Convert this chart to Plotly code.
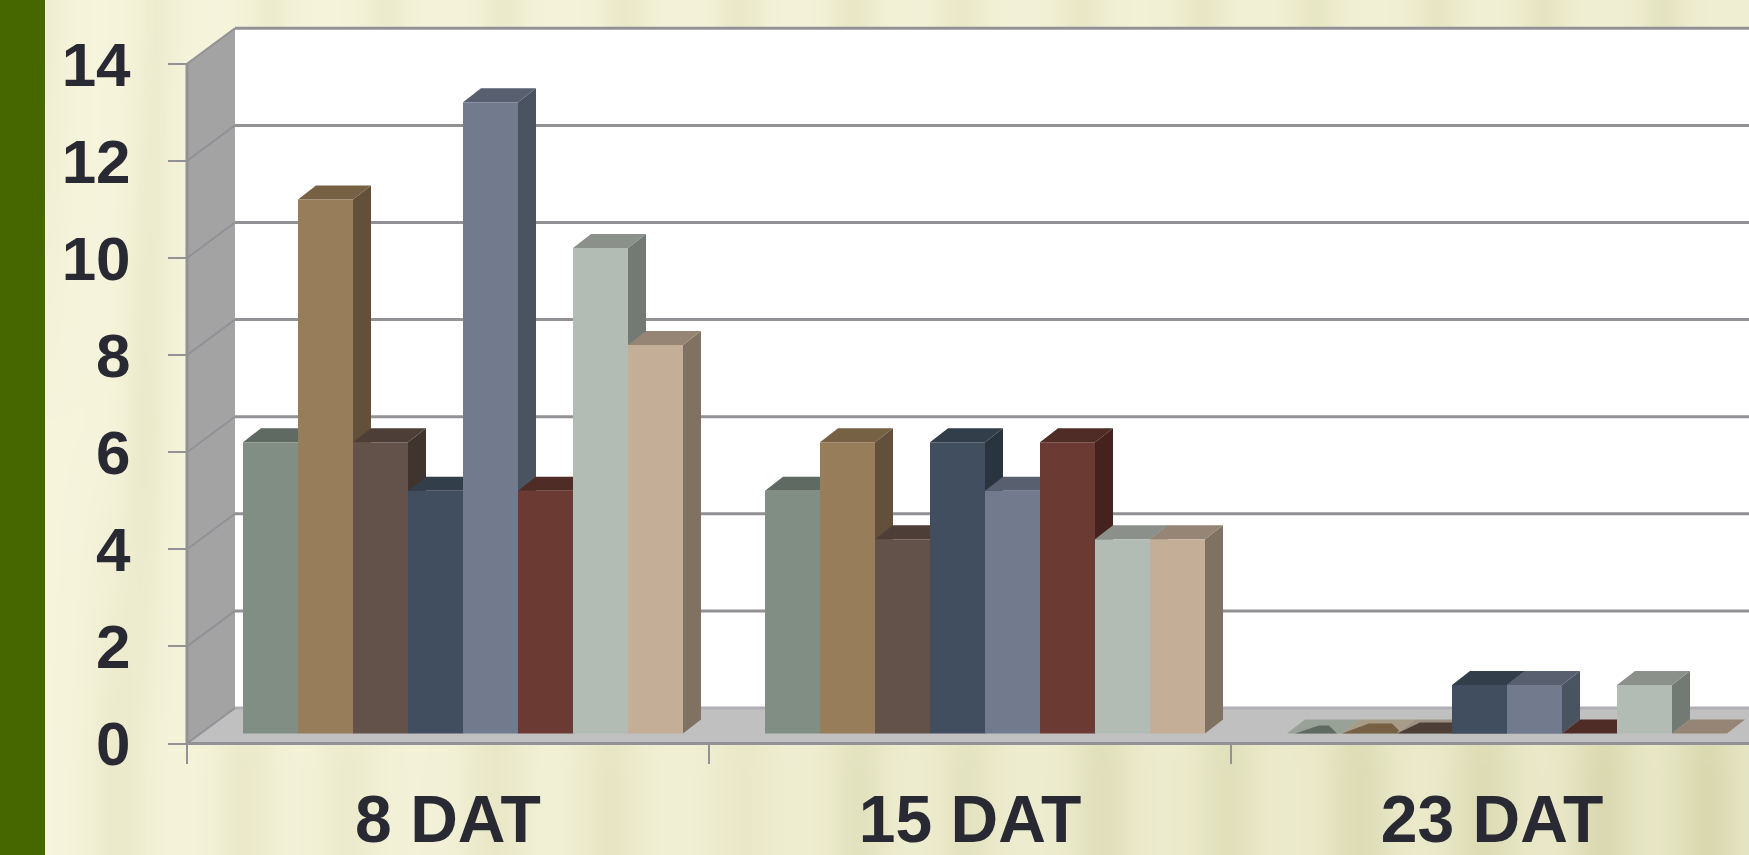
import numpy as np
import plotly.graph_objects as go

# Chart data
categories = ["8 DAT", "15 DAT", "23 DAT"]
series_1 = [6, 5, 0]
series_2 = [11, 6, 0]
series_3 = [6, 4, 0]
series_4 = [5, 6, 1]
series_5 = [13, 5, 1]
series_6 = [5, 6, 0]
series_7 = [10, 4, 1]
series_8 = [8, 4, 0]
y_ticks = [0, 2, 4, 6, 8, 10, 12, 14]

all_series = [series_1, series_2, series_3, series_4,
              series_5, series_6, series_7, series_8]

# Face colours per series: front, top, side
FRONT = ["#818e84", "#987d5a", "#635249", "#414e5f", "#727b8d", "#6b3a33", "#b2bcb4", "#c4ae98"]
TOP = ["#5f6a62", "#766145", "#4d3f37", "#323e4a", "#586070", "#4f2c26", "#8b918a", "#968574"]
SIDE = ["#4c5550", "#62503a", "#40342e", "#29343e", "#4a5360", "#45221e", "#737a74", "#7f7262"]

# Flat bars in the third group have a washed-out top with a darker ridge on it
WASH = {0: "#99a297", 1: "#a69c87", 2: "#9c9384"}
RIDGE = {
    0: [(8, 0), (32, 8), (42, 8), (50, 0)],
    1: [(0, 0), (27, 10), (50, 10), (57, 3), (55, 0)],
    2: [(0, 0), (23, 11), (55, 11), (55, 0)],
}

# Canvas and plotting scale, in pixels
W, H = 1749, 855
ORIGIN_X, ORIGIN_Y = 187, 743.5
PX_PER_CAT, PX_PER_UNIT = 522.0, 48.55
LINE = "#929296"
TEXT = "#292933"
FONT = "Liberation Sans"


def ux(px):
    return px / PX_PER_CAT


def uy(px):
    return px / PX_PER_UNIT


x_min, x_max = ux(-ORIGIN_X), ux(W - ORIGIN_X)
y_min, y_max = uy(ORIGIN_Y - H), uy(ORIGIN_Y)

wall_dx, wall_dy = ux(48), uy(35.5)
bar_dx, bar_dy = ux(18), uy(14)
bar_w = ux(55)
bar_gap = ux(41)
lift_x, lift_y = ux(15), uy(10)


def poly(xs, ys, color):
    return go.Scatter(x=xs, y=ys, mode="lines", fill="toself", fillcolor=color,
                      line=dict(width=0), hoverinfo="skip", showlegend=False)


def path(xs, ys, width=3, color=LINE):
    return go.Scatter(x=xs, y=ys, mode="lines", line=dict(width=width, color=color),
                      hoverinfo="skip", showlegend=False)


def streaks(grid, centers, depths, base_left, base_right, sigma):
    profile = np.linspace(base_left, base_right, grid.size)
    for c, d in zip(centers, depths):
        profile = profile + d * np.exp(-((grid - c) ** 2) / (2 * sigma ** 2))
    return np.clip(profile, 0, 1)


# Paper-like backdrop: vertical streaks that deepen toward the lower right
grid_px = np.arange(0, W + 4, 4.0)
top_row = streaks(
    grid_px,
    [45, 156, 270, 386, 503, 625, 739, 853, 961, 1081, 1202, 1315, 1436, 1543, 1663],
    [.22, .22, .22, .25, .27, .3, .3, .32, .27, .3, .3, .3, .3, .32, .35],
    0.0, 0.2, 16,
)
mid_row = streaks(grid_px, [145, 500, 900, 1300], [.3, .3, .3, .3], 0.0, 0.3, 16)
bottom_row = streaks(
    grid_px,
    [118, 245, 348, 495, 609, 744, 858, 966, 1102, 1227, 1358, 1483, 1603, 1706],
    [.3, .28, .2, .28, .32, .22, .36, .3, .38, .34, .42, .4, .45, .45],
    0.0, 0.42, 22,
)
row_px = [855, 775, 430, 30, 0]
backdrop = go.Heatmap(
    x=[ux(p - ORIGIN_X) for p in grid_px],
    y=[uy(ORIGIN_Y - p) for p in row_px],
    z=[bottom_row, bottom_row, mid_row, top_row, top_row],
    zmin=0, zmax=1, zsmooth="best", showscale=False, hoverinfo="skip",
    colorscale=[[0, "#f6f4dc"], [1, "#d4d4a8"]],
)

fig = go.Figure(backdrop)

# Chart box: floor, side wall, back wall
top_val = y_ticks[-1]
fig.add_trace(poly([0, wall_dx, x_max, x_max, 0], [0, wall_dy, wall_dy, 0, 0], "#c0c0c0"))
fig.add_trace(poly([0, wall_dx, wall_dx, 0, 0], [0, wall_dy, top_val + wall_dy, top_val, 0], "#a3a3a3"))
fig.add_trace(poly([wall_dx, x_max, x_max, wall_dx, wall_dx],
                   [wall_dy, wall_dy, top_val + wall_dy, top_val + wall_dy, wall_dy], "#ffffff"))

for t in y_ticks:
    shade = "#b0b0b4" if t == 0 else LINE
    fig.add_trace(path([wall_dx, x_max], [t + wall_dy, t + wall_dy], color=shade))
    fig.add_trace(path([0, wall_dx], [t, t + wall_dy], width=2))
fig.add_trace(path([0, 0], [0, top_val], width=3))
fig.add_trace(path([0, x_max], [0, 0], width=3))

# Bars, painted left to right so each one hides the side of its left neighbour
for s, values in enumerate(all_series):
    side_x, side_y, top_x, top_y, front_x, front_y = [], [], [], [], [], []
    for c, v in enumerate(values):
        x0 = c + bar_gap + lift_x + s * bar_w
        x1 = x0 + bar_w
        y0 = lift_y
        y1 = lift_y + v
        if v == 0 and s in WASH:
            continue
        side_x += [x1, x1 + bar_dx, x1 + bar_dx, x1, x1, None]
        side_y += [y0, y0 + bar_dy, y1 + bar_dy, y1, y0, None]
        top_x += [x0, x0 + bar_dx, x1 + bar_dx, x1, x0, None]
        top_y += [y1, y1 + bar_dy, y1 + bar_dy, y1, y1, None]
        front_x += [x0, x1, x1, x0, x0, None]
        front_y += [y0, y0, y1, y1, y0, None]
    fig.add_trace(poly(side_x, side_y, SIDE[s]))
    fig.add_trace(poly(top_x, top_y, TOP[s]))
    fig.add_trace(poly(front_x, front_y, FRONT[s]))

# Flat bars: faded top face plus the ridge drawn in the normal top colour
for s, values in enumerate(all_series):
    for c, v in enumerate(values):
        if v == 0 and s in WASH:
            x0 = c + bar_gap + lift_x + s * bar_w
            x1 = x0 + bar_w
            y1 = lift_y + v
            fig.add_trace(poly([x0, x0 + bar_dx, x1 + bar_dx, x1, x0],
                               [y1, y1 + bar_dy, y1 + bar_dy, y1, y1], WASH[s]))

for s, values in enumerate(all_series):
    for c, v in enumerate(values):
        if v == 0 and s in RIDGE:
            x0 = c + bar_gap + lift_x + s * bar_w
            y1 = lift_y + v
            fig.add_trace(poly([x0 + ux(p[0]) for p in RIDGE[s]],
                               [y1 + uy(p[1]) for p in RIDGE[s]], TOP[s]))

# The two taller flat-group bars sit above the washed tops
for s in (3, 4):
    values = all_series[s]
    c = 2
    x0 = c + bar_gap + lift_x + s * bar_w
    x1 = x0 + bar_w
    fig.add_trace(poly([x0, x1, x1, x0, x0],
                       [lift_y, lift_y, lift_y + values[c], lift_y + values[c], lift_y], FRONT[s]))

x_font = dict(family=FONT, size=66, color=TEXT, weight=700)
y_font = dict(family=FONT, size=62, color=TEXT, weight=700)

fig.update_layout(
    width=W, height=H, autosize=False,
    margin=dict(l=0, r=0, t=0, b=0, pad=0, autoexpand=False),
    paper_bgcolor="#f6f4dc", plot_bgcolor="rgba(0,0,0,0)",
    showlegend=False,
    xaxis=dict(
        range=[x_min, x_max], domain=[0, 1], anchor="free", position=(H - ORIGIN_Y) / H,
        tickmode="array", tickvals=[i + 0.5 for i in range(len(categories))], ticktext=categories,
        ticks="outside", ticklen=10, tickwidth=2, tickcolor="rgba(0,0,0,0)",
        minor=dict(tickmode="array", tickvals=list(range(len(categories) + 1)),
                   ticks="outside", ticklen=19, tickwidth=2, tickcolor=LINE),
        tickfont=x_font, ticklabelstandoff=8,
        showgrid=False, zeroline=False, showline=False,
    ),
    yaxis=dict(
        range=[y_min, y_max], domain=[0, 1], anchor="free", position=ORIGIN_X / W,
        tickmode="array", tickvals=y_ticks, ticktext=[str(t) for t in y_ticks],
        ticks="outside", ticklen=19, tickwidth=2, tickcolor=LINE,
        tickfont=y_font, ticklabelstandoff=25,
        showgrid=False, zeroline=False, showline=False,
    ),
    shapes=[dict(type="rect", xref="paper", yref="paper", x0=0, x1=45 / W, y0=0, y1=1,
                 fillcolor="#466600", line=dict(width=0), layer="above")],
)

fig.write_html("out.html")
